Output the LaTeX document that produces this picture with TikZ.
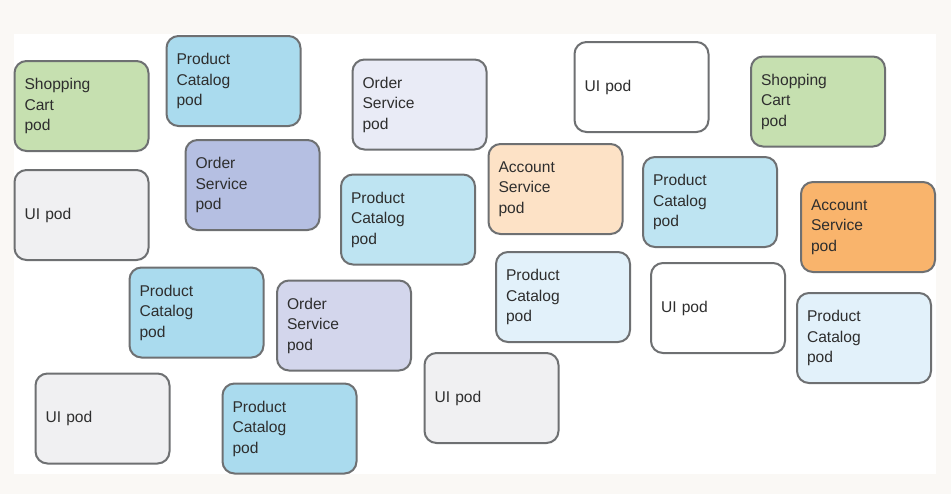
\documentclass[tikz,border=0pt]{standalone}
\usepackage{fontspec}
\setmainfont{Liberation Sans}
\usepackage{tikz}
\usetikzlibrary{positioning}

\definecolor{pageback}{HTML}{FAF8F5}
\definecolor{podline}{HTML}{6E7072}
\definecolor{podtext}{HTML}{2E2E2E}
\definecolor{cartgreen}{HTML}{C6E0B0}
\definecolor{catblue}{HTML}{AADBEE}
\definecolor{catmid}{HTML}{BEE4F2}
\definecolor{catpale}{HTML}{E2F1FA}
\definecolor{uigray}{HTML}{F0F0F2}
\definecolor{orderdark}{HTML}{B5BFE2}
\definecolor{ordermid}{HTML}{D3D6EC}
\definecolor{orderpale}{HTML}{E9EBF6}
\definecolor{acctpale}{HTML}{FDE2C6}
\definecolor{acctorange}{HTML}{F9B46C}

\tikzset{
	pod/.style={draw=podline, line width=1.5pt, rounded corners=9pt, rectangle,
		minimum width=100.5pt, minimum height=67.5pt, text width=85.5pt,
		inner xsep=7.5pt, align=left, text=podtext,
		font=\fontsize{11.7pt}{15.4pt}\selectfont}
}

\begin{document}
\begin{tikzpicture}[x=0.75pt,y=-0.75pt]
	\fill [pageback] (0,0) rectangle (951,494);
	\fill [white] (14,34) rectangle (936,474);
	% top row
	\node [pod,fill=cartgreen] (cartA) at (81.5,106) {Shopping\\Cart\\pod};
	\node [pod,fill=catblue] (catalogA) at (233.5,81) {Product\\Catalog\\pod};
	\node [pod,fill=orderpale] (orderB) at (419.5,104.5) {Order\\Service\\pod};
	\node [pod,fill=white] (uiB) at (641.5,87) {UI pod};
	\node [pod,fill=cartgreen] (cartB) at (818,101.5) {Shopping\\Cart\\pod};
	% second row
	\node [pod,fill=uigray] (uiA) at (81.5,215) {UI pod};
	\node [pod,fill=orderdark] (orderA) at (252.5,185) {Order\\Service\\pod};
	\node [pod,fill=catmid] (catalogB) at (408,219.5) {Product\\Catalog\\pod};
	\node [pod,fill=acctpale] (accountA) at (555.5,189) {Account\\Service\\pod};
	\node [pod,fill=catmid] (catalogC) at (710,202) {Product\\Catalog\\pod};
	\node [pod,fill=acctorange] (accountB) at (868,227) {Account\\Service\\pod};
	% third row
	\node [pod,fill=catblue] (catalogD) at (196.5,312.5) {Product\\Catalog\\pod};
	\node [pod,fill=ordermid] (orderC) at (344,325.5) {Order\\Service\\pod};
	\node [pod,fill=catpale] (catalogE) at (563,297) {Product\\Catalog\\pod};
	\node [pod,fill=white] (uiC) at (718,308) {UI pod};
	\node [pod,fill=catpale] (catalogF) at (864,338) {Product\\Catalog\\pod};
	% bottom row
	\node [pod,fill=uigray] (uiD) at (102.5,418.5) {UI pod};
	\node [pod,fill=catblue] (catalogG) at (289.5,428.5) {Product\\Catalog\\pod};
	\node [pod,fill=uigray] (uiE) at (491.5,398) {UI pod};
\end{tikzpicture}
\end{document}
